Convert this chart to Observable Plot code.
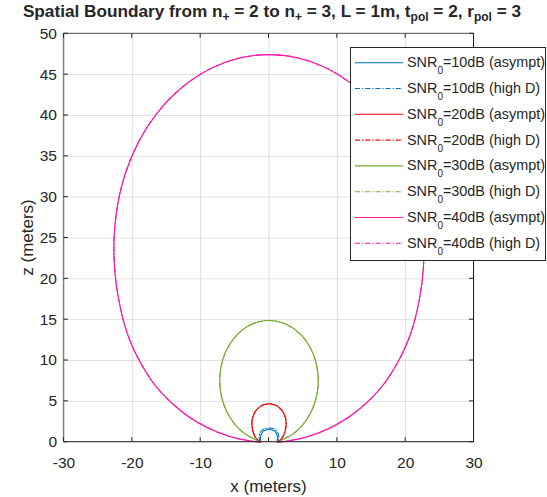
<!DOCTYPE html>
<html><head><meta charset="utf-8">
<script src="https://cdn.jsdelivr.net/npm/d3@7"></script>
<script src="https://cdn.jsdelivr.net/npm/@observablehq/plot@0.6"></script>
<style>body{margin:0;background:#fff} svg{display:block}</style>
</head><body><div id="chart"></div>
<script>
// ---- data ----
const xTicks = [-30, -20, -10, 0, 10, 20, 30];
const zTicks = [0, 5, 10, 15, 20, 25, 30, 35, 40, 45, 50];
const snrLevels = ["10", "20", "30", "40"];
const colors = ["#0072BD", "#FF0000", "#77AC30", "#FF14A8"];
const kinds = ["asympt", "high D"];

const snr10Asympt = [[-1.2,0],[-1.24,0.35],[-1.22,0.7],[-1.12,1.0],[-0.92,1.27],[-0.65,1.44],[-0.33,1.53],[0,1.55],[0.33,1.53],[0.65,1.44],[0.92,1.27],[1.12,1.0],[1.22,0.7],[1.24,0.35],[1.2,0]];
const snr10HighD = [[-1.3,0],[-1.42,0.4],[-1.42,0.8],[-1.3,1.15],[-1.05,1.45],[-0.72,1.62],[-0.36,1.7],[0,1.72],[0.36,1.7],[0.72,1.62],[1.05,1.45],[1.3,1.15],[1.42,0.8],[1.42,0.4],[1.3,0]];
const snr20Asympt = [[-1.25,0],[-1.7,0.3],[-2.05,0.7],[-2.3,1.2],[-2.45,1.75],[-2.5,2.35],[-2.415,2.96],[-2.165,3.525],[-1.768,4.01],[-1.25,4.385],[-0.647,4.62],[0,4.7],[0.647,4.62],[1.25,4.385],[1.768,4.01],[2.165,3.525],[2.415,2.96],[2.5,2.35],[2.45,1.75],[2.3,1.2],[2.05,0.7],[1.7,0.3],[1.25,0]];
const snr20HighD = [[-1.25,0],[-1.7,0.3],[-2.05,0.7],[-2.3,1.2],[-2.45,1.75],[-2.5,2.35],[-2.415,2.96],[-2.165,3.525],[-1.768,4.01],[-1.25,4.385],[-0.647,4.62],[0,4.7],[0.647,4.62],[1.25,4.385],[1.768,4.01],[2.165,3.525],[2.415,2.96],[2.5,2.35],[2.45,1.75],[2.3,1.2],[2.05,0.7],[1.7,0.3],[1.25,0]];
const snr30Asympt = [[-1.3,0],[-2.14,0.38],[-3.25,0.87],[-4.3,1.57],[-5.23,2.44],[-6.02,3.48],[-6.62,4.64],[-7.02,5.89],[-7.2,7.2],[-7.14,8.51],[-6.86,9.8],[-6.36,11.02],[-5.65,12.12],[-4.76,13.08],[-3.71,13.85],[-2.54,14.43],[-1.29,14.78],[0,14.9],[1.29,14.78],[2.54,14.43],[3.71,13.85],[4.76,13.08],[5.65,12.12],[6.36,11.02],[6.86,9.8],[7.14,8.51],[7.2,7.2],[7.02,5.89],[6.62,4.64],[6.02,3.48],[5.23,2.44],[4.3,1.57],[3.25,0.87],[2.14,0.38],[1.3,0]];
const snr30HighD = [[-1.3,0],[-2.14,0.38],[-3.25,0.87],[-4.3,1.57],[-5.23,2.44],[-6.02,3.48],[-6.62,4.64],[-7.02,5.89],[-7.2,7.2],[-7.14,8.51],[-6.86,9.8],[-6.36,11.02],[-5.65,12.12],[-4.76,13.08],[-3.71,13.85],[-2.54,14.43],[-1.29,14.78],[0,14.9],[1.29,14.78],[2.54,14.43],[3.71,13.85],[4.76,13.08],[5.65,12.12],[6.36,11.02],[6.86,9.8],[7.14,8.51],[7.2,7.2],[7.02,5.89],[6.62,4.64],[6.02,3.48],[5.23,2.44],[4.3,1.57],[3.25,0.87],[2.14,0.38],[1.3,0]];
const snr40Asympt = [[-1.3,0],[-3.3,0.23],[-5.74,0.7],[-8.89,1.73],[-11.86,3.18],[-14.5,5],[-16.7,7],[-18.3,9],[-19.6,11],[-20.6,13],[-21.35,15],[-22,17.5],[-22.45,20],[-22.7,23.5],[-22.51,26.83],[-21.68,30.97],[-20.14,34.88],[-17.93,38.44],[-15.12,41.54],[-11.8,44.06],[-8.1,45.92],[-4.12,47.07],[0,47.45],[4.12,47.07],[8.1,45.92],[11.8,44.06],[15.12,41.54],[17.93,38.44],[20.14,34.88],[21.68,30.97],[22.51,26.83],[22.7,23.5],[22.45,20],[22,17.5],[21.35,15],[20.6,13],[19.6,11],[18.3,9],[16.7,7],[14.5,5],[11.86,3.18],[8.89,1.73],[5.74,0.7],[3.3,0.23],[1.3,0]];
const snr40HighD = [[-1.3,0],[-3.3,0.23],[-5.74,0.7],[-8.89,1.73],[-11.86,3.18],[-14.5,5],[-16.7,7],[-18.3,9],[-19.6,11],[-20.6,13],[-21.35,15],[-22,17.5],[-22.45,20],[-22.7,23.5],[-22.51,26.83],[-21.68,30.97],[-20.14,34.88],[-17.93,38.44],[-15.12,41.54],[-11.8,44.06],[-8.1,45.92],[-4.12,47.07],[0,47.45],[4.12,47.07],[8.1,45.92],[11.8,44.06],[15.12,41.54],[17.93,38.44],[20.14,34.88],[21.68,30.97],[22.51,26.83],[22.7,23.5],[22.45,20],[22,17.5],[21.35,15],[20.6,13],[19.6,11],[18.3,9],[16.7,7],[14.5,5],[11.86,3.18],[8.89,1.73],[5.74,0.7],[3.3,0.23],[1.3,0]];

const curves = [
  [snr10Asympt, snr10HighD],
  [snr20Asympt, snr20HighD],
  [snr30Asympt, snr30HighD],
  [snr40Asympt, snr40HighD]
];

// ---- layout ----
const W = 547, H = 497;
const mL = 63.5, mR = 73.5, mT = 33.3, mB = 55.3;
const font = "'Liberation Sans', Arial, Helvetica, sans-serif";
const ink = "#262626";
const dashDot = "5,2,1.2,2";

const lineMarks = [];
curves.forEach((pair, i) => {
  pair.forEach((pts, k) => {
    lineMarks.push(Plot.line(pts, {
      x: d => d[0], y: d => d[1],
      stroke: colors[i], strokeWidth: 1.1,
      curve: "catmull-rom",
      strokeDasharray: k === 1 ? dashDot : null
    }));
  });
});

const plot = Plot.plot({
  width: W, height: H,
  marginLeft: mL, marginRight: mR, marginTop: mT, marginBottom: mB,
  x: {domain: [-30, 30]},
  y: {domain: [0, 50]},
  style: {fontFamily: font, fontSize: "15.5px", color: ink, background: "#fff", overflow: "visible"},
  marks: [
    Plot.gridX(xTicks, {stroke: "#000", strokeOpacity: 0.12}),
    Plot.gridY(zTicks, {stroke: "#000", strokeOpacity: 0.12}),
    ...lineMarks,
    Plot.axisX(xTicks, {tickSize: 0, tickPadding: 15, label: null, fill: ink, fontSize: 15.5, tickFormat: d => String(d)}),
    Plot.axisY(zTicks, {tickSize: 0, tickPadding: 7, label: null, fill: ink, fontSize: 15.5, tickFormat: d => String(d)})
  ]
});
document.getElementById("chart").appendChild(plot);

const svg = d3.select(plot);
const sx = plot.scale("x"), sy = plot.scale("y");
const x0 = sx.apply(-30), x1 = sx.apply(30), y0 = sy.apply(0), y1 = sy.apply(50);

// frame + inward ticks
const g = svg.append("g").attr("stroke", ink).attr("fill", "none");
g.append("line").attr("x1", x0).attr("x2", x1).attr("y1", y0).attr("y2", y0);
g.append("line").attr("x1", x0).attr("x2", x1).attr("y1", y1).attr("y2", y1).attr("stroke", "#555");
g.append("line").attr("x1", x0).attr("x2", x0).attr("y1", y0).attr("y2", y1).attr("stroke", "#808080").attr("stroke-width", 1.4);
g.append("line").attr("x1", x1).attr("x2", x1).attr("y1", y0).attr("y2", y1);
xTicks.forEach(v => {
  const px = sx.apply(v);
  g.append("line").attr("x1", px).attr("x2", px).attr("y1", y0).attr("y2", y0 - 4.5);
  g.append("line").attr("x1", px).attr("x2", px).attr("y1", y1).attr("y2", y1 + 4.5);
});
zTicks.forEach(v => {
  const py = sy.apply(v);
  g.append("line").attr("x1", x0).attr("x2", x0 + 4.5).attr("y1", py).attr("y2", py);
  g.append("line").attr("x1", x1).attr("x2", x1 - 4.5).attr("y1", py).attr("y2", py);
});

function rich(parent, x, y, parts, o) {
  const t = parent.append("text").attr("x", x).attr("y", y)
    .attr("font-family", font).attr("font-size", o.size)
    .attr("font-weight", o.weight || "normal").attr("fill", ink)
    .attr("text-anchor", o.anchor || "start");
  let down = false;
  parts.forEach(([s, sub]) => {
    const sp = t.append("tspan").text(s);
    if (sub && !down) { sp.attr("dy", o.subDy).attr("font-size", o.subSize); down = true; }
    else if (sub) { sp.attr("font-size", o.subSize); }
    else if (!sub && down) { sp.attr("dy", -o.subDy); down = false; }
  });
  return t;
}

// title
rich(svg, 272, 16.5, [
  ["Spatial Boundary from n", false], ["+", true], [" = 2 to n", false], ["+", true],
  [" = 3, L = 1m, t", false], ["pol", true], [" = 2, r", false], ["pol", true], [" = 3", false]
], {size: 17.2, subSize: 12, subDy: 4, weight: "bold", anchor: "middle"});

// axis labels
svg.append("text").attr("x", (x0 + x1) / 2).attr("y", 492)
  .attr("text-anchor", "middle").attr("font-family", font).attr("font-size", 17).attr("fill", ink)
  .text("x (meters)");
svg.append("text").attr("transform", `translate(33,${(y0 + y1) / 2}) rotate(-90)`)
  .attr("text-anchor", "middle").attr("font-family", font).attr("font-size", 17).attr("fill", ink)
  .text("z (meters)");

// legend
const lg = svg.append("g");
lg.append("rect").attr("x", 350.5).attr("y", 47.5).attr("width", 195).attr("height", 213)
  .attr("fill", "#fff").attr("stroke", ink);
let row = 0;
snrLevels.forEach((lvl, i) => {
  kinds.forEach((kind, k) => {
    const cy = 62.7 + row * 25.8;
    lg.append("line").attr("x1", 355).attr("x2", 403).attr("y1", cy).attr("y2", cy)
      .attr("stroke", colors[i]).attr("stroke-width", 1.1)
      .attr("stroke-dasharray", k === 1 ? dashDot : null);
    rich(lg, 407, cy + 4.5, [["SNR", false], ["0", true], ["=" + lvl + "dB (" + kind + ")", false]],
      {size: 14.4, subSize: 10, subDy: 7});
    row++;
  });
});
</script>
</body></html>
